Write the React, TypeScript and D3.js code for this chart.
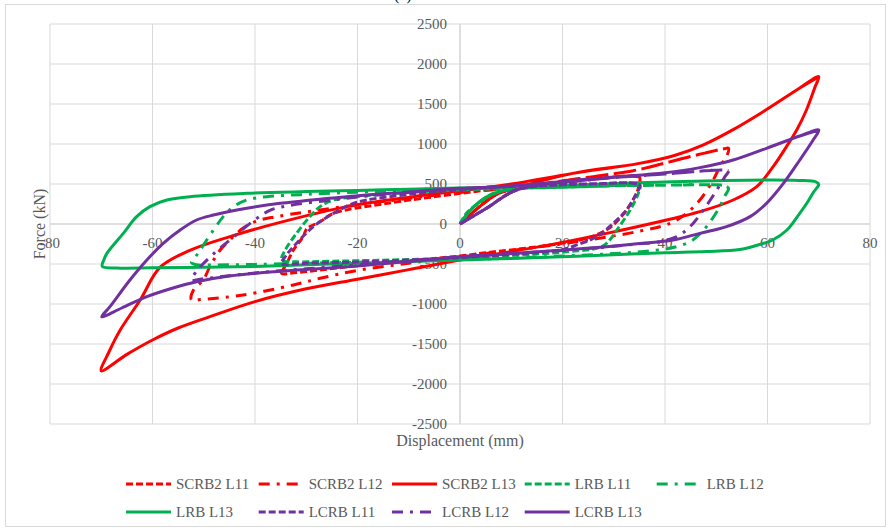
import React from "react";
import * as d3 from "d3";

type P = [number, number];

const xTicks = [-80, -60, -40, -20, 0, 20, 40, 60, 80];
const yTicks = [-2500, -2000, -1500, -1000, -500, 0, 500, 1000, 1500, 2000, 2500];

const scrb2L11: P[] = [[0,0],[4.6,258],[7.5,383],[12,450],[20,520],[28,575],[33,600],[35,590],[34.8,450],[34.1,342],[32.5,175],[29.9,-12],[27.3,-117],[23.4,-200],[15,-285],[5,-360],[0,-400],[-10,-460],[-20,-520],[-27.3,-575],[-32.5,-610],[-34.8,-617],[-33.8,-492],[-32.5,-325],[-30.6,-158],[-29.9,-60],[-27.3,29],[-24.7,133],[-15,250],[0,383],[10,460],[20,520],[28,575],[33,600],[35,590]];
const scrb2L12: P[] = [[0,0],[4.6,258],[7.5,383],[12,460],[20,540],[26,592],[34.5,675],[41,779],[47.5,883],[51.5,940],[52.4,946],[52,842],[50.7,717],[49.4,550],[46.8,300],[44.2,133],[41,8],[35,-90],[25,-200],[15,-290],[5,-370],[0,-410],[-10,-490],[-20,-580],[-27.3,-679],[-32.5,-762],[-42.3,-887],[-50.7,-945],[-52.4,-950],[-52,-825],[-50.1,-700],[-48.8,-533],[-46.8,-325],[-44.9,-200],[-42.5,-60],[-40,30],[-36,90],[-30,150],[-20,240],[-10,320],[0,395],[12,460],[20,540],[26,592],[34.5,675],[41,779],[47.5,883],[51.5,940],[52.4,946]];
const scrb2L13: P[] = [[0,0],[4.6,258],[7.5,383],[12,470],[22,633],[35,758],[42,860],[47.5,990],[53.3,1180],[59.8,1430],[66.3,1700],[70,1842],[69.3,1717],[67.6,1425],[65.7,1175],[63.7,967],[61.1,717],[57.9,467],[53.3,300],[46.8,154],[40.3,50],[28.6,-117],[15.6,-283],[0,-450],[-10,-570],[-20,-690],[-30,-810],[-40,-970],[-48.8,-1158],[-55,-1300],[-60,-1450],[-65,-1630],[-70,-1835],[-68.5,-1600],[-66.3,-1325],[-62.4,-950],[-58.5,-540],[-52.7,-330],[-44.9,-158],[-35.1,20],[-22.1,217],[-9.1,342],[0,415],[10,500],[22,633],[35,758],[42,860],[47.5,990],[53.3,1180],[59.8,1430],[66.3,1700],[70,1842]];

const lrbL11: P[] = [[0,0],[1.3,137],[4.5,300],[6.5,383],[10,435],[20,460],[28,475],[33,488],[35.1,480],[34.8,383],[33.2,175],[30.6,-75],[28.6,-242],[26.7,-304],[23,-335],[15,-375],[5,-410],[-5,-435],[-15,-452],[-25,-465],[-32,-472],[-34.8,-450],[-34.1,-325],[-31.9,-117],[-29.3,92],[-27.3,217],[-24.7,300],[-20,345],[-10,395],[0,425],[10,445],[20,460],[28,475],[33,488],[35.1,480]];
const lrbL12: P[] = [[0,0],[2,170],[5,330],[8,410],[12,445],[20,465],[30,478],[40,485],[48,490],[51.5,480],[52.4,446],[51.5,330],[50.7,217],[48.1,-33],[46.2,-158],[44.9,-221],[42.3,-283],[38,-330],[30,-370],[20,-400],[10,-425],[0,-445],[-10,-462],[-20,-478],[-30,-492],[-40,-505],[-48,-512],[-51.5,-510],[-52.4,-480],[-51.5,-400],[-50.7,-325],[-48.1,-75],[-46.2,92],[-44.2,217],[-41.6,300],[-37.7,342],[-30,370],[-20,398],[-10,420],[0,440],[10,455],[20,465],[30,478],[40,485],[48,490],[51.5,480],[52.4,446]];
const lrbL13: P[] = [[0,0],[2,170],[5,330],[8,410],[12,455],[20,480],[30,505],[40,525],[50,540],[60,550],[66,545],[69.5,525],[70,495],[69,400],[67.7,262],[65.8,90],[63.8,-75],[61,-200],[58,-265],[54.6,-320],[48,-345],[40,-360],[30,-385],[20,-408],[10,-430],[0,-450],[-10,-470],[-20,-490],[-30,-510],[-40,-530],[-50,-542],[-60,-548],[-67,-550],[-69.8,-530],[-69.5,-450],[-68.9,-367],[-65.7,-117],[-63.1,92],[-60.5,217],[-57.2,300],[-52.7,342],[-41.6,383],[-30,405],[-20,420],[-10,435],[0,450],[10,462],[20,480],[30,505],[40,525],[50,540],[60,550],[66,545],[69.5,525],[70,495]];

const lcrbL11: P[] = [[0,0],[5,190],[11,425],[20,490],[28,505],[33,515],[35.1,490],[34.1,342],[32.5,175],[29.9,8],[26.7,-158],[22.8,-262],[19.5,-325],[10,-380],[0,-420],[-10,-450],[-20,-475],[-30,-490],[-34.8,-495],[-34,-400],[-32.5,-283],[-28.6,-33],[-24.7,133],[-20.8,258],[-18.2,300],[-10,370],[0,430],[10,470],[20,490],[28,505],[33,515],[35.1,490]];
const lcrbL12: P[] = [[0,0],[5,190],[11,425],[20,520],[30,580],[40,625],[45.5,654],[51,675],[52.4,665],[51.7,592],[50.1,425],[47.5,175],[44.9,-33],[42.3,-158],[39,-221],[34.5,-250],[28,-290],[20,-330],[10,-370],[0,-410],[-10,-460],[-20,-510],[-30,-560],[-38,-600],[-45.5,-650],[-50.7,-690],[-52.4,-700],[-51.2,-575],[-48,-367],[-44.5,-180],[-40.3,40],[-37.1,170],[-33.8,225],[-25,300],[-15,370],[0,440],[10,480],[20,520],[30,580],[40,625],[45.5,654],[51,675],[52.4,665]];
const lcrbL13: P[] = [[0,0],[5,190],[11,425],[20,530],[30,585],[40,640],[46.8,705],[53.3,800],[59.8,946],[66.3,1100],[70,1175],[68.9,1050],[66.3,800],[63.1,508],[59.8,258],[56.6,92],[52,-33],[46.8,-117],[41.6,-200],[35,-245],[28.6,-283],[20.2,-325],[10,-370],[0,-408],[-10,-470],[-20,-525],[-35,-590],[-45,-650],[-51.4,-721],[-56,-800],[-61.1,-908],[-66,-1050],[-69.9,-1160],[-68.3,-1033],[-64.4,-700],[-61.1,-450],[-57.9,-242],[-54.6,-75],[-51.4,50],[-48.1,112],[-41.6,196],[-35.1,258],[-22.1,342],[-9.1,404],[0,446],[9.1,470],[20,530],[30,585],[40,640],[46.8,705],[53.3,800],[59.8,946],[66.3,1100],[70,1175]];

const seriesNames = ["SCRB2 L11", "SCRB2 L12", "SCRB2 L13", "LRB L11", "LRB L12", "LRB L13", "LCRB L11", "LCRB L12", "LCRB L13"];
const seriesData = [scrb2L11, scrb2L12, scrb2L13, lrbL11, lrbL12, lrbL13, lcrbL11, lcrbL12, lcrbL13];
const seriesColors = ["#FF0000", "#FF0000", "#FF0000", "#00B050", "#00B050", "#00B050", "#7030A0", "#7030A0", "#7030A0"];
const seriesDash = ["7,3", "11,7,3,7", "none", "7,3", "11,7,3,7", "none", "7,3", "11,7,3,7", "none"];

const W = 890, H = 531;
const FONT = "'Liberation Serif', 'Times New Roman', serif";
const GRAY = "#595959";

export default function App() {
  const x = d3.scaleLinear().domain([-80, 80]).range([50, 870]);
  const y = d3.scaleLinear().domain([-2500, 2500]).range([424, 24]);
  const line = d3.line<P>().x(d => x(d[0])).y(d => y(d[1])).curve(d3.curveCatmullRom.alpha(0.5));

  const legendCols = [126, 258.7, 392, 524.7, 656.7];
  const legendRows = [484, 512];

  return (
    <svg width={W} height={H} style={{ position: "absolute", left: 0, top: 0, background: "#fff" }} fontFamily={FONT}>
      <rect x={0} y={0} width={W} height={H} fill="#fff" />
      <rect x={5.5} y={4.5} width={880} height={522} fill="none" stroke="#d9d9d9" strokeWidth={1} />
      <text x={403} y={0} textAnchor="middle" fontSize={16} fill="#000">(a)</text>
      {xTicks.map(t => (
        <line key={"gx" + t} x1={x(t)} x2={x(t)} y1={y(2500)} y2={y(-2500)} stroke={t === 0 ? "#bfbfbf" : "#d9d9d9"} strokeWidth={1} />
      ))}
      {yTicks.map(t => (
        <line key={"gy" + t} x1={x(-80)} x2={x(80)} y1={y(t)} y2={y(t)} stroke={t === 0 ? "#bfbfbf" : "#d9d9d9"} strokeWidth={1} />
      ))}
      {xTicks.map(t => (
        <text key={"tx" + t} x={x(t)} y={y(0) + 19} textAnchor="middle" dominantBaseline="central" fontSize={15} fill={GRAY}>{t}</text>
      ))}
      {yTicks.map(t => (
        <text key={"ty" + t} x={x(0) - 13} y={y(t)} textAnchor="end" dominantBaseline="central" fontSize={15} fill={GRAY}>{t}</text>
      ))}
      {seriesData.map((d, i) => (
        <path key={"s" + i} d={line(d) || ""} fill="none" stroke={seriesColors[i]} strokeWidth={3} strokeDasharray={seriesDash[i]} strokeLinejoin="round" />
      ))}
      <text x={39} y={224} transform="rotate(-90 39 224)" textAnchor="middle" dominantBaseline="central" fontSize={16} fill={GRAY}>Force (kN)</text>
      <text x={460} y={440} textAnchor="middle" dominantBaseline="central" fontSize={16} fill={GRAY}>Displacement (mm)</text>
      {seriesNames.map((n, i) => {
        const col = legendCols[i % 5];
        const row = legendRows[Math.floor(i / 5)];
        return (
          <g key={"lg" + i}>
            <line x1={col} x2={col + 45} y1={row} y2={row} stroke={seriesColors[i]} strokeWidth={3} strokeDasharray={seriesDash[i]} />
            <text x={col + 50} y={row} dominantBaseline="central" fontSize={15} fill={GRAY}>{n}</text>
          </g>
        );
      })}
    </svg>
  );
}
